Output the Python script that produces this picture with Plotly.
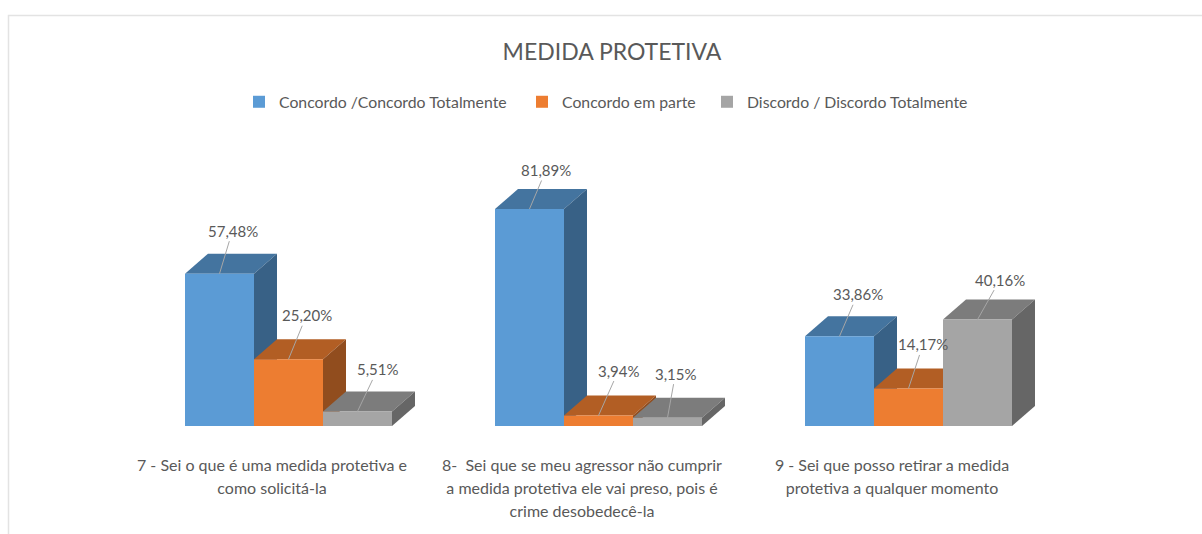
"""MEDIDA PROTETIVA: clustered bars with an Excel-style 3D look."""

import plotly.graph_objects as go

WIDTH, HEIGHT = 1202, 534

TITLE = "MEDIDA PROTETIVA"
QUESTIONS = [
    ["7 - Sei o que é uma medida protetiva e", "como solicitá-la"],
    ["8-  Sei que se meu agressor não cumprir", "a medida protetiva ele vai preso, pois é",
     "crime desobedecê-la"],
    ["9 - Sei que posso retirar a medida", "protetiva a qualquer momento"],
]
SERIES_NAMES = [
    "Concordo /Concordo Totalmente",
    "Concordo em parte",
    "Discordo / Discordo Totalmente",
]
CONCORDO = [57.48, 81.89, 33.86]
EM_PARTE = [25.20, 3.94, 14.17]
DISCORDO = [5.51, 3.15, 40.16]

FONT = "Lato"
TEXT_COLOR = "#595959"
FRONT = ["#5B9BD5", "#ED7D31", "#A5A5A5"]
TOP = ["#44749F", "#B25E24", "#7C7C7C"]
SIDE = ["#386186", "#914D1E", "#666666"]

# plot area in pixels, one category is 310 px wide
LEFT, RIGHT, PLOT_TOP, PLOT_BOTTOM = 117, 1047, 161, 426
PX_X = 1 / 310
PX_Y = 100 / (PLOT_BOTTOM - PLOT_TOP)
BAR_W = 69 * PX_X
GROUP_SHIFT = 16.5 * PX_X
DEPTH_X = 23 * PX_X
DEPTH_Y = 20 * PX_Y

# label offsets from the bar top, in pixels, per series then per group
LABEL_DX = [[13, 16.5, 18], [18, 20, 14.5], [20, 8, 22.5]]
LABEL_DY = [[-43, -39, -42], [-44, -45, -44], [-42, -44, -40]]
# left edge of each of the three legends, in pixels
LEGEND_X = [239, 522, 707]


def _paper_x(px):
    return (px - LEFT) / (RIGHT - LEFT)


def _paper_y(px):
    return (PLOT_BOTTOM - px) / (PLOT_BOTTOM - PLOT_TOP)


def _poly(points, color):
    path = "M" + " L".join(f"{x},{y}" for x, y in points) + " Z"
    return dict(type="path", path=path, fillcolor=color, line=dict(width=0),
                layer="below", xref="x", yref="y")


def _tick_text(lines):
    # tick font stays larger than the glyphs so the lines sit further apart
    return "<br>".join(f'<span style="font-size:16px">{s}</span>' for s in lines)


fig = go.Figure()
shapes = []
annotations = []
for j, values in enumerate([CONCORDO, EM_PARTE, DISCORDO]):
    xs = [g + GROUP_SHIFT + (j - 1) * BAR_W for g in range(len(values))]
    legend_id = "legend" if j == 0 else f"legend{j + 1}"
    fig.add_trace(go.Bar(x=xs, y=values, width=BAR_W, name=SERIES_NAMES[j],
                         marker=dict(color=FRONT[j], line=dict(width=0)),
                         legend=legend_id, showlegend=True, hoverinfo="name+y"))
    for g, (x, v) in enumerate(zip(xs, values)):
        x0, x1 = x - BAR_W / 2, x + BAR_W / 2
        shapes.append(_poly([(x0, v), (x0 + DEPTH_X, v + DEPTH_Y),
                             (x1 + DEPTH_X, v + DEPTH_Y), (x1, v)], TOP[j]))
        shapes.append(_poly([(x1, 0), (x1 + DEPTH_X, DEPTH_Y),
                             (x1 + DEPTH_X, v + DEPTH_Y), (x1, v)], SIDE[j]))
        annotations.append(dict(
            x=x, y=v, text=f"{v:.2f}".replace(".", ",") + "%",
            ax=LABEL_DX[j][g], ay=LABEL_DY[j][g], axref="pixel", ayref="pixel",
            showarrow=True, arrowhead=0, arrowwidth=1, arrowcolor="#A6A6A6",
            font=dict(family=FONT, size=15, color=TEXT_COLOR)))

# thin frame of the chart area, only the left and top edges are in the picture
shapes.append(dict(
    type="path", xref="paper", yref="paper", layer="below",
    path=(f"M{_paper_x(8.5)},{_paper_y(534)} L{_paper_x(8.5)},{_paper_y(15.5)} "
          f"L{_paper_x(1202)},{_paper_y(15.5)}"),
    line=dict(color="#E3E3E3", width=1.5)))

legend_base = dict(orientation="h", yanchor="middle", y=_paper_y(102),
                   xanchor="left", font=dict(family=FONT, size=15.8, color=TEXT_COLOR),
                   itemsizing="constant", bgcolor="rgba(0,0,0,0)")

fig.update_layout(
    width=WIDTH, height=HEIGHT,
    barmode="overlay",
    showlegend=True,
    paper_bgcolor="white", plot_bgcolor="white",
    margin=dict(l=LEFT, r=WIDTH - RIGHT, t=PLOT_TOP, b=HEIGHT - PLOT_BOTTOM,
                autoexpand=False),
    title=dict(text=TITLE, x=612 / WIDTH, xanchor="center",
               y=1 - 52 / HEIGHT, yanchor="middle",
               font=dict(family=FONT, size=23, color=TEXT_COLOR)),
    xaxis=dict(range=[-0.5, 2.5], tickvals=[0, 1, 2],
               ticktext=[_tick_text(q) for q in QUESTIONS],
               showgrid=False, zeroline=False, showline=False,
               ticks="outside", ticklen=22, tickcolor="rgba(0,0,0,0)",
               tickangle=0, automargin=False,
               tickfont=dict(family=FONT, size=18, color=TEXT_COLOR)),
    yaxis=dict(range=[0, 100], visible=False),
    legend=dict(legend_base, x=_paper_x(LEGEND_X[0])),
    legend2=dict(legend_base, x=_paper_x(LEGEND_X[1])),
    legend3=dict(legend_base, x=_paper_x(LEGEND_X[2])),
    shapes=shapes,
    annotations=annotations,
)

# the page's default body margin would push the figure 8 px right and down
fig.write_html("out.html", config=dict(displayModeBar=False), post_script=(
    "document.body.style.margin='0';"
    "document.documentElement.style.overflow='hidden';"))
